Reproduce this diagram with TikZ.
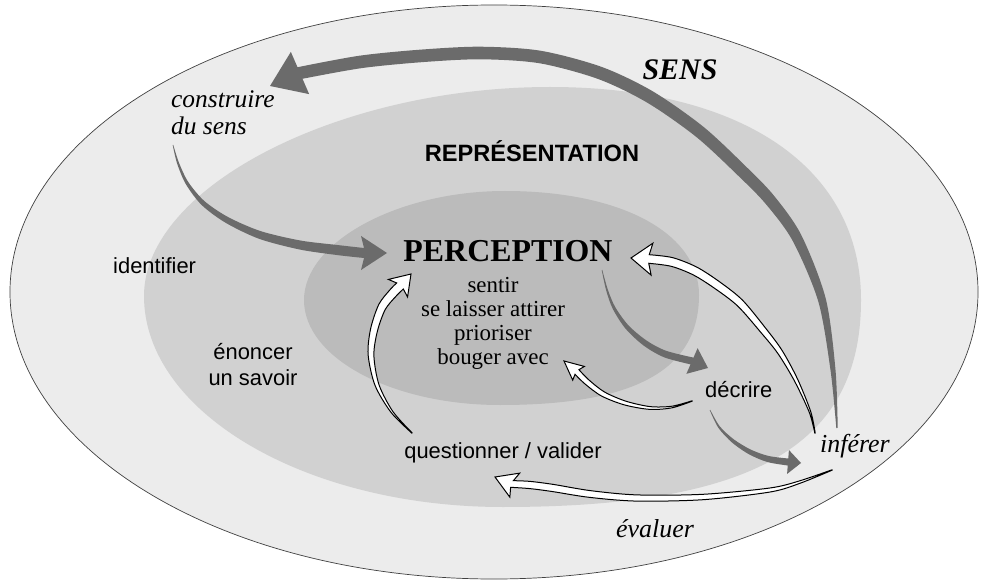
\documentclass[tikz,border=0pt]{standalone}
\usepackage{fontspec}
\setmainfont{Liberation Serif}
\newfontfamily\arialfont{Liberation Sans}
\usetikzlibrary{calc}
\definecolor{outerfill}{HTML}{ECECEC}
\definecolor{midfill}{HTML}{D1D1D1}
\definecolor{innerfill}{HTML}{BBBBBB}
\definecolor{arrowgrey}{HTML}{6B6B6B}
\newcommand\mksides[1]{\foreach \p/\q/\w in {#1}{%
  \coordinate (\p a) at ($(\p)!\w bp!90:(\q)$);
  \coordinate (\p b) at ($(\p)!\w bp!-90:(\q)$);}}
\newcommand\mkhead[4]{%
  \coordinate (#1L) at ($(#2)!-#3bp!(#1tip)!#4bp!90:(#1tip)$);
  \coordinate (#1R) at ($(#2)!-#3bp!(#1tip)!#4bp!-90:(#1tip)$);}
\begin{document}
\begin{tikzpicture}[x=1bp,y=-1bp,
  greyarrow/.style={fill=arrowgrey},
  openarrow/.style={fill=white,draw=black,line width=1bp,line join=miter},
  lbl/.style={inner sep=0pt,anchor=base},
  sanslbl/.style={lbl,font=\arialfont\fontsize{22}{24}\selectfont},
  itlbl/.style={lbl,font=\itshape\fontsize{26}{28}\selectfont},
  listlbl/.style={lbl,font=\fontsize{23}{24}\selectfont}]
\fill[white] (0,0) rectangle (982,584);
\useasboundingbox (0,0) rectangle (982,584);
% zones
\filldraw[fill=outerfill,draw=black!75,line width=0.7bp] (494,292) ellipse [x radius=484bp,y radius=287bp];
\fill[midfill] (144,296) .. controls (144,187) and (339,87) .. (550,87)
  .. controls (743,87) and (861,168) .. (861,300)
  .. controls (861,445) and (754,507) .. (503,507)
  .. controls (305,507) and (144,412) .. (144,296) -- cycle;
\fill[innerfill] (304,300) .. controls (304,242) and (398,191) .. (505,191)
  .. controls (621,191) and (699,233) .. (699,295)
  .. controls (699,370) and (635,405) .. (500,405)
  .. controls (392,405) and (304,358) .. (304,300) -- cycle;
% ---------- SENS arrow
\coordinate (S0) at (837,428); \coordinate (S1) at (833,370); \coordinate (S2) at (822,300);
\coordinate (S3) at (797,238); \coordinate (S4) at (770,200); \coordinate (S5) at (743,172);
\coordinate (S6) at (700,132); \coordinate (S7) at (650,97); \coordinate (S8) at (600,73);
\coordinate (S9) at (540,57); \coordinate (S10) at (480,53); \coordinate (S11) at (420,56);
\coordinate (S12) at (360,62); \coordinate (S13) at (300,73); \coordinate (Stip) at (270,86);
\mksides{S0/S1/0.7,S1/S2/2.5,S2/S3/4,S3/S4/5.2,S4/S5/5.8,S5/S6/6,S6/S7/6.2,S7/S8/6.3,S8/S9/6.3,S9/S10/6.3,S10/S11/6.3,S11/S12/6.3,S12/S13/6.3,S13/Stip/6.3}
\mkhead{S}{S13}{0}{23}
\fill[greyarrow] plot[smooth] coordinates {(S0a)(S1a)(S2a)(S3a)(S4a)(S5a)(S6a)(S7a)(S8a)(S9a)(S10a)(S11a)(S12a)(S13a)}
  -- (SL) -- (Stip) -- (SR) --
  plot[smooth] coordinates {(S13b)(S12b)(S11b)(S10b)(S9b)(S8b)(S7b)(S6b)(S5b)(S4b)(S3b)(S2b)(S1b)(S0b)} -- cycle;
% ---------- construire -> PERCEPTION
\coordinate (C0) at (173,145); \coordinate (C1) at (178,163); \coordinate (C2) at (187,183);
\coordinate (C3) at (203,203); \coordinate (C4) at (227,220); \coordinate (C5) at (260,235);
\coordinate (C6) at (300,245); \coordinate (C7) at (337,250); \coordinate (C8) at (364,253);
\coordinate (Ctip) at (387,253);
\mksides{C0/C1/0.3,C1/C2/1,C2/C3/1.6,C3/C4/2.4,C4/C5/3.1,C5/C6/3.9,C6/C7/4.5,C7/C8/5,C8/Ctip/5}
\mkhead{C}{C8}{3}{17}
\fill[greyarrow] plot[smooth] coordinates {(C0a)(C1a)(C2a)(C3a)(C4a)(C5a)(C6a)(C7a)(C8a)}
  -- (CL) -- (Ctip) -- (CR) --
  plot[smooth] coordinates {(C8b)(C7b)(C6b)(C5b)(C4b)(C3b)(C2b)(C1b)(C0b)} -- cycle;
% ---------- PERCEPTION -> decrire
\coordinate (D0) at (602,270); \coordinate (D1) at (607,290); \coordinate (D2) at (614,308);
\coordinate (D3) at (627,327); \coordinate (D4) at (645,343); \coordinate (D5) at (665,354);
\coordinate (D6) at (692,361); \coordinate (Dtip) at (708,368);
\mksides{D0/D1/0.3,D1/D2/0.9,D2/D3/1.5,D3/D4/2.2,D4/D5/2.9,D5/D6/3.4,D6/Dtip/3.7}
\mkhead{D}{D6}{0}{14}
\fill[greyarrow] plot[smooth] coordinates {(D0a)(D1a)(D2a)(D3a)(D4a)(D5a)(D6a)}
  -- (DL) -- (Dtip) -- (DR) --
  plot[smooth] coordinates {(D6b)(D5b)(D4b)(D3b)(D2b)(D1b)(D0b)} -- cycle;
% ---------- decrire -> inferer
\coordinate (E0) at (710,410); \coordinate (E1) at (719,427); \coordinate (E2) at (733,441);
\coordinate (E3) at (750,452); \coordinate (E4) at (768,459); \coordinate (E5) at (788,462);
\coordinate (Etip) at (801,463);
\mksides{E0/E1/0.3,E1/E2/1,E2/E3/1.8,E3/E4/2.5,E4/E5/3.1,E5/Etip/3.5}
\mkhead{E}{E5}{0}{12}
\fill[greyarrow] plot[smooth] coordinates {(E0a)(E1a)(E2a)(E3a)(E4a)(E5a)}
  -- (EL) -- (Etip) -- (ER) --
  plot[smooth] coordinates {(E5b)(E4b)(E3b)(E2b)(E1b)(E0b)} -- cycle;
% ---------- open arrow: inferer -> PERCEPTION
\coordinate (F0) at (815,433); \coordinate (F1) at (810,412); \coordinate (F2) at (796,380);
\coordinate (F3) at (780,352); \coordinate (F4) at (763,330); \coordinate (F5) at (740,303);
\coordinate (F6) at (717,285); \coordinate (F7) at (695,271); \coordinate (F8) at (672,262);
\coordinate (F9) at (649,259); \coordinate (Ftip) at (631,258);
\mksides{F0/F1/0.2,F1/F2/0.8,F2/F3/1.8,F3/F4/2.6,F4/F5/3.2,F5/F6/3.8,F6/F7/4.1,F7/F8/4.3,F8/F9/4.4,F9/Ftip/4.3}
\mkhead{F}{F9}{3}{16}
\filldraw[openarrow] plot[smooth] coordinates {(F0a)(F1a)(F2a)(F3a)(F4a)(F5a)(F6a)(F7a)(F8a)(F9a)}
  -- (FL) -- (Ftip) -- (FR) --
  plot[smooth] coordinates {(F9b)(F8b)(F7b)(F6b)(F5b)(F4b)(F3b)(F2b)(F1b)(F0b)} -- cycle;
% ---------- open arrow: decrire -> bouger avec
\coordinate (H0) at (692,401); \coordinate (H1) at (672,407); \coordinate (H2) at (650,408);
\coordinate (H3) at (625,403); \coordinate (H4) at (603,394); \coordinate (H5) at (587,382);
\coordinate (H6) at (577,372); \coordinate (Htip) at (564,361);
\mksides{H0/H1/0.2,H1/H2/0.8,H2/H3/1.4,H3/H4/2,H4/H5/2.5,H5/H6/2.8,H6/Htip/3}
\mkhead{H}{H6}{2}{9}
\filldraw[openarrow] plot[smooth] coordinates {(H0a)(H1a)(H2a)(H3a)(H4a)(H5a)(H6a)}
  -- (HL) -- (Htip) -- (HR) --
  plot[smooth] coordinates {(H6b)(H5b)(H4b)(H3b)(H2b)(H1b)(H0b)} -- cycle;
% ---------- open arrow: questionner -> PERCEPTION
\coordinate (Q0) at (412,433); \coordinate (Q1) at (392,412); \coordinate (Q2) at (377,385);
\coordinate (Q3) at (371,355); \coordinate (Q4) at (374,330); \coordinate (Q5) at (382,307);
\coordinate (Q6) at (393,293); \coordinate (Q7) at (400,286); \coordinate (Qtip) at (411,274);
\mksides{Q0/Q1/0.2,Q1/Q2/1,Q2/Q3/2,Q3/Q4/2.9,Q4/Q5/3.6,Q5/Q6/4.1,Q6/Q7/4.4,Q7/Qtip/4.5}
\mkhead{Q}{Q7}{3}{13}
\filldraw[openarrow] plot[smooth] coordinates {(Q0a)(Q1a)(Q2a)(Q3a)(Q4a)(Q5a)(Q6a)(Q7a)}
  -- (QL) -- (Qtip) -- (QR) --
  plot[smooth] coordinates {(Q7b)(Q6b)(Q5b)(Q4b)(Q3b)(Q2b)(Q1b)(Q0b)} -- cycle;
% ---------- open arrow: inferer -> questionner
\coordinate (V0) at (832,470); \coordinate (V1) at (800,482); \coordinate (V2) at (770,490);
\coordinate (V3) at (703,497); \coordinate (V4) at (637,498); \coordinate (V5) at (590,494);
\coordinate (V6) at (553,488); \coordinate (V7) at (530,485); \coordinate (V8) at (512,484);
\coordinate (Vtip) at (495,477);
\mksides{V0/V1/0.2,V1/V2/1.2,V2/V3/2,V3/V4/2.7,V4/V5/3.1,V5/V6/3.4,V6/V7/3.6,V7/V8/3.6,V8/Vtip/3.6}
\mkhead{V}{V8}{3}{13}
\filldraw[openarrow] plot[smooth] coordinates {(V0a)(V1a)(V2a)(V3a)(V4a)(V5a)(V6a)(V7a)(V8a)}
  -- (VL) -- (Vtip) -- (VR) --
  plot[smooth] coordinates {(V8b)(V7b)(V6b)(V5b)(V4b)(V3b)(V2b)(V1b)(V0b)} -- cycle;
% ---------- texts
\node[lbl,font=\bfseries\itshape\fontsize{30}{30}\selectfont] (sens) at (680,79.5) {SENS};
\node[lbl,font=\arialfont\bfseries\fontsize{23.7}{24}\selectfont] (repr) at (532,162) {REPRÉSENTATION};
\node[lbl,font=\bfseries\fontsize{32}{32}\selectfont] (perc) at (508,262) {PERCEPTION};
\node[listlbl] (l1) at (493,292.7) {sentir};
\node[listlbl] (l2) at (493,316.7) {se laisser attirer};
\node[listlbl] (l3) at (493,340) {prioriser};
\node[listlbl] (l4) at (493,364) {bouger avec};
\node[itlbl,anchor=base west,font=\itshape\fontsize{25.5}{27}\selectfont] (constr1) at (171,108) {construire};
\node[itlbl,anchor=base west,font=\itshape\fontsize{25.5}{27}\selectfont] (constr2) at (171,135) {du sens};
\node[sanslbl,anchor=base west] (ident) at (113,274) {identifier};
\node[sanslbl] (enon1) at (253,359) {énoncer};
\node[sanslbl] (enon2) at (253,385) {un savoir};
\node[sanslbl,anchor=base west] (decr) at (705,397) {décrire};
\node[itlbl,anchor=base west] (infer) at (820,452) {inférer};
\node[sanslbl] (quest) at (503,458) {questionner / valider};
\node[itlbl] (eval) at (655,537) {évaluer};
\end{tikzpicture}
\end{document}
